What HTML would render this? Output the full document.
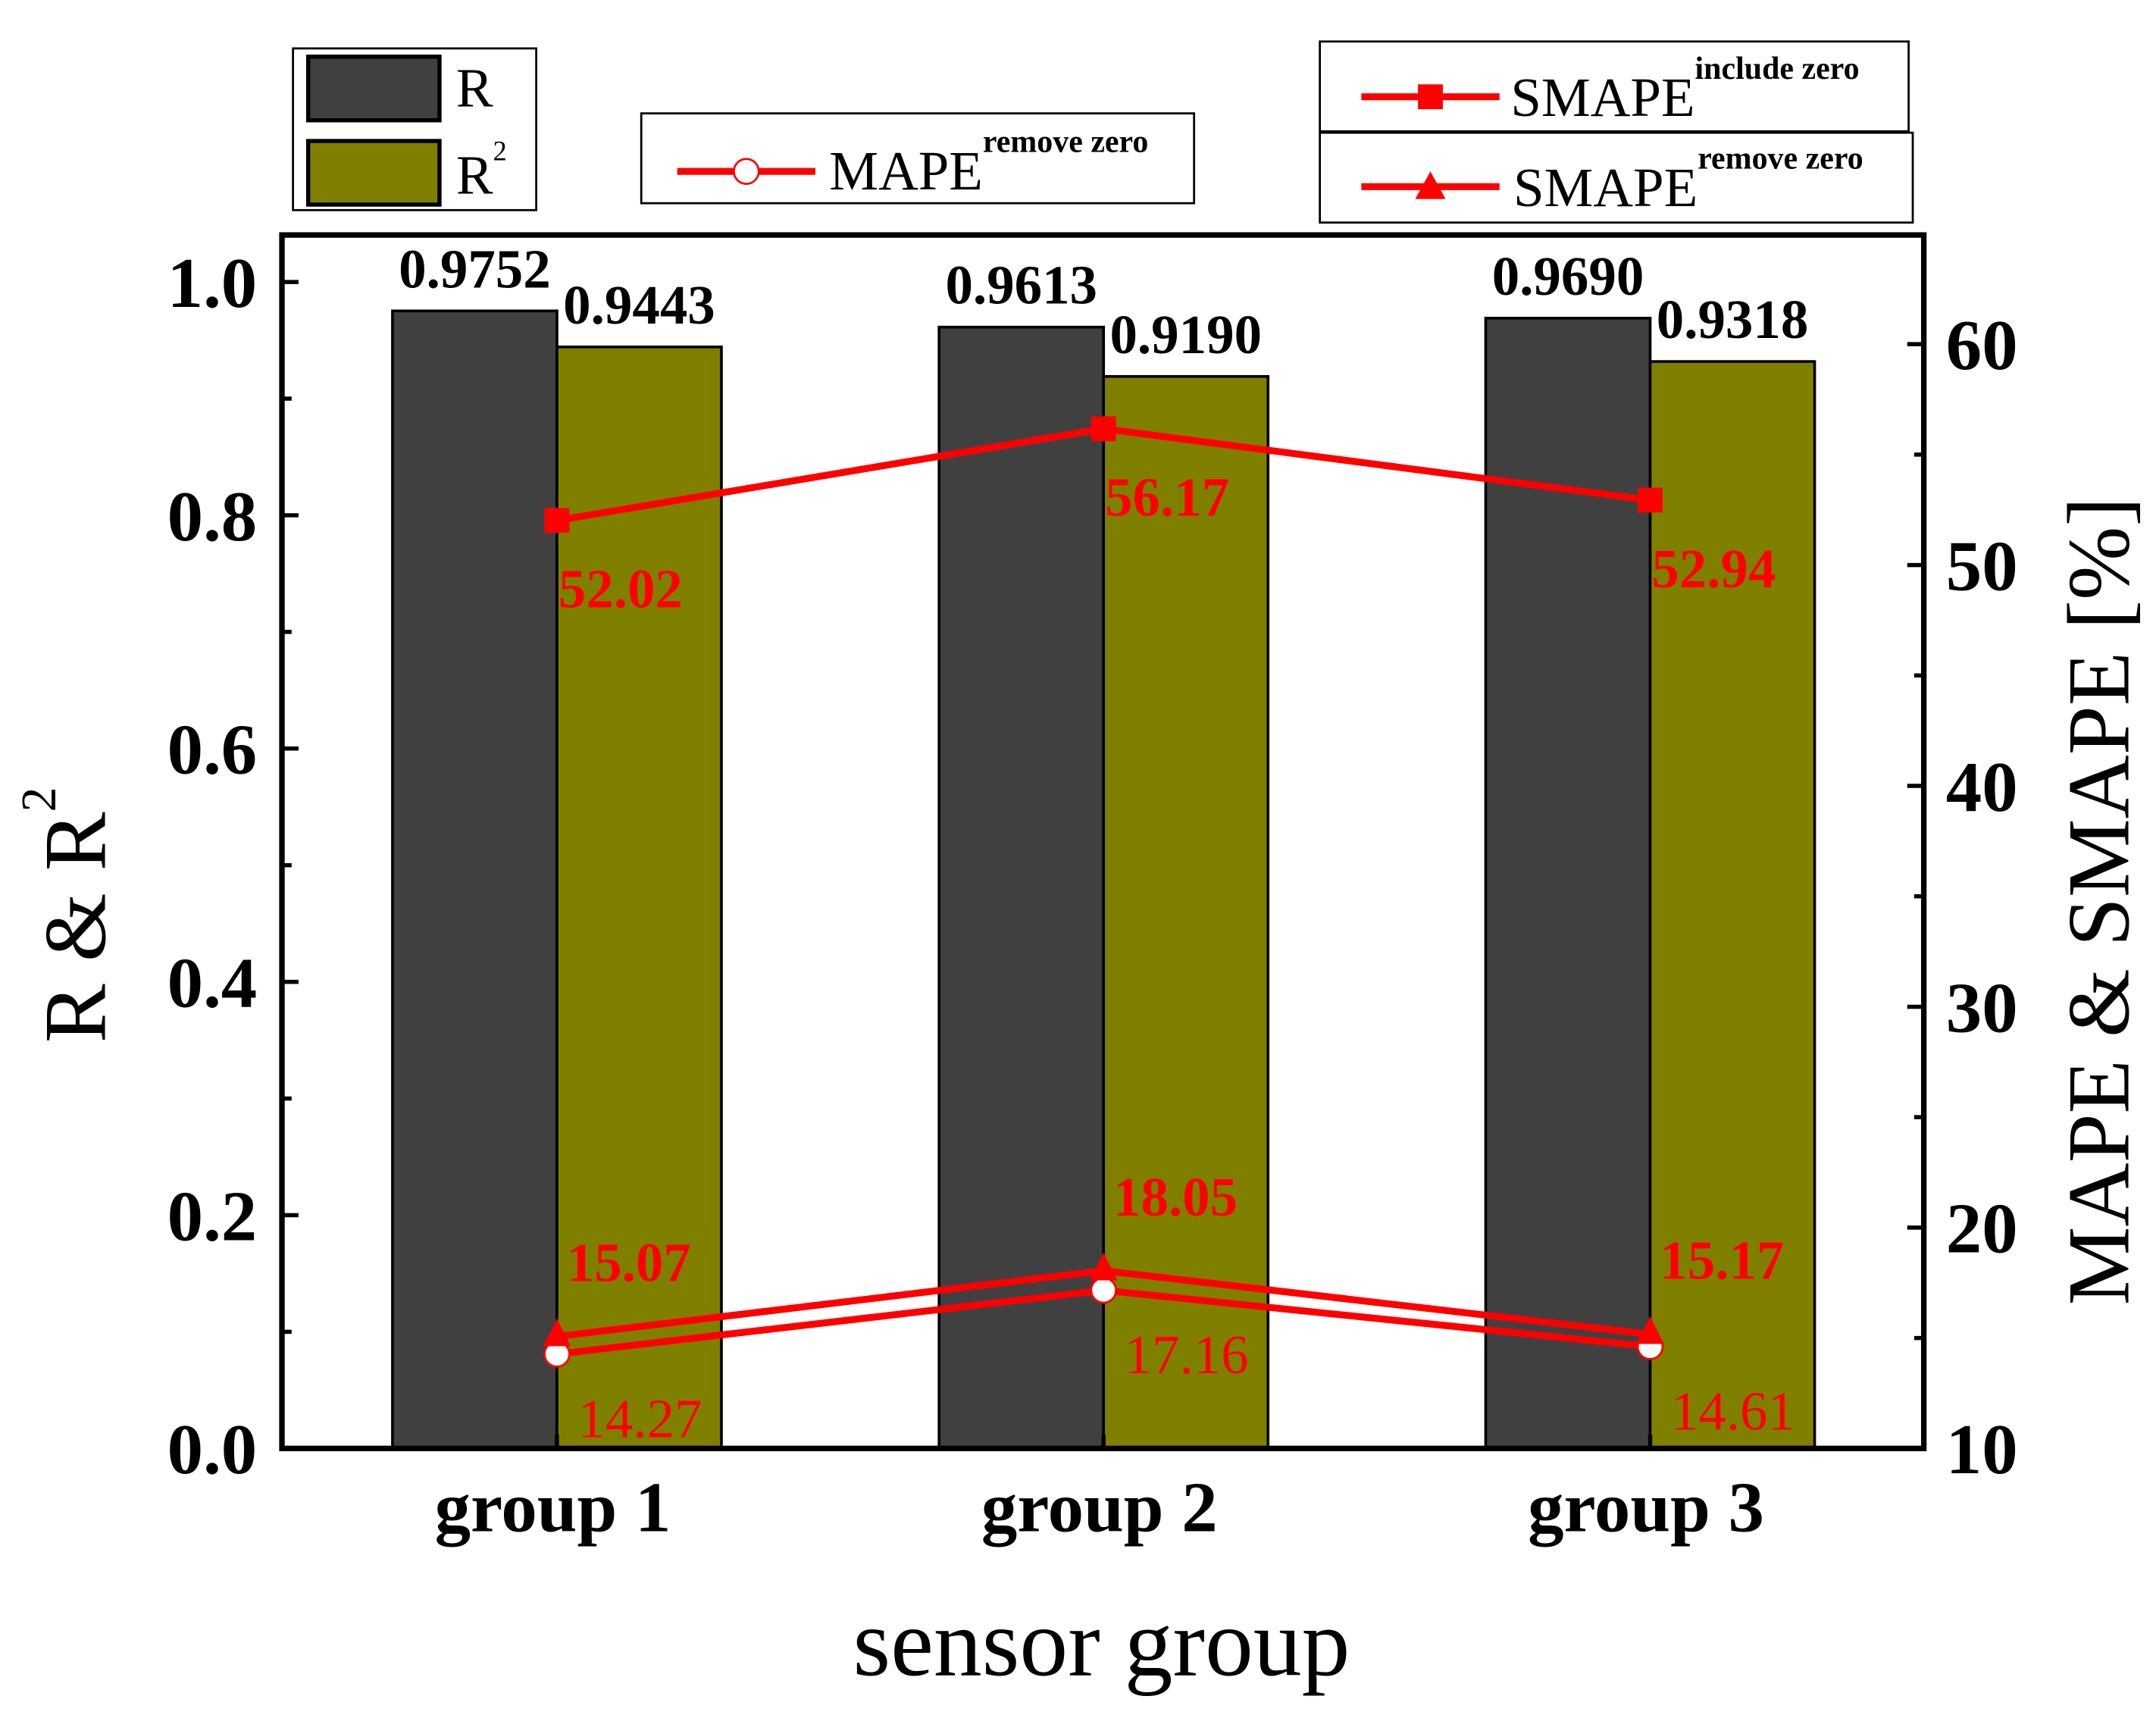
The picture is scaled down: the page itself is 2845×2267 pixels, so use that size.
<!DOCTYPE html>
<html><head><meta charset="utf-8"><style>
html,body{margin:0;padding:0;background:#fff;}
svg{display:block;}
text{font-family:"Liberation Serif",serif;}
</style></head><body>
<svg id="chart" width="2845" height="2267" viewBox="0 0 1560 1243" xmlns="http://www.w3.org/2000/svg">
<g id="bars"></g>
<g id="lines"></g>
<g id="axes"></g>
<g id="legends">
  <g>
    <rect x="212" y="35" width="176" height="117" fill="#fff" stroke="#000" stroke-width="1.5"/>
    <rect x="223" y="41" width="95" height="46" fill="#404040" stroke="#000" stroke-width="3"/>
    <text x="330" y="77" font-size="40">R</text>
    <rect x="223" y="102" width="95" height="46" fill="#808000" stroke="#000" stroke-width="3"/>
    <text x="330" y="140" font-size="40">R<tspan font-size="20" dy="-24">2</tspan></text>
  </g>
  <g>
    <rect x="464" y="82" width="400" height="65" fill="#fff" stroke="#000" stroke-width="1.5"/>
    <line x1="490" y1="124" x2="590" y2="124" stroke="#f00" stroke-width="5"/>
    <circle cx="540" cy="124" r="9" fill="#fff" stroke="#f00" stroke-width="1.5"/>
    <text x="600" y="137" font-size="40">MAPE<tspan font-size="23" font-weight="bold" dy="-27">remove zero</tspan></text>
  </g>
  <g>
    <rect x="955" y="30" width="426" height="65" fill="#fff" stroke="#000" stroke-width="1.5"/>
    <line x1="985" y1="70" x2="1085" y2="70" stroke="#f00" stroke-width="5"/>
    <rect x="1026" y="61" width="18" height="18" fill="#f00"/>
    <text x="1093" y="84" font-size="40">SMAPE<tspan font-size="23" font-weight="bold" dy="-27">include zero</tspan></text>
  </g>
  <g>
    <rect x="955" y="96" width="429" height="65" fill="#fff" stroke="#000" stroke-width="1.5"/>
    <line x1="985" y1="135" x2="1085" y2="135" stroke="#f00" stroke-width="5"/>
    <polygon points="1035,124 1046,144 1024,144" fill="#f00"/>
    <text x="1095" y="149" font-size="40">SMAPE<tspan font-size="23" font-weight="bold" dy="-27">remove zero</tspan></text>
  </g>
</g>
</svg>
<script>
const categories = ["group 1", "group 2", "group 3"];
const rValues = [0.9752, 0.9613, 0.9690];
const r2Values = [0.9443, 0.9190, 0.9318];
const smapeInclude = [52.02, 56.17, 52.94];
const smapeRemove = [15.07, 18.05, 15.17];
const mapeRemove = [14.27, 17.16, 14.61];
const leftTicks = ["0.0", "0.2", "0.4", "0.6", "0.8", "1.0"];
const rightTicks = ["10", "20", "30", "40", "50", "60"];

const NS = "http://www.w3.org/2000/svg";
const L = 204, R = 1392, T = 170, B = 1048;
const yL = v => B - v * (B - 204);
const yR = v => B - (v - 10) * (B - 249) / 50;
const xC = i => 403 + i * 395.5;
const barW = 119;
function mk(tag, attrs, parent, txt) {
  const e = document.createElementNS(NS, tag);
  for (const k in attrs) e.setAttribute(k, attrs[k]);
  if (txt !== undefined) e.textContent = txt;
  parent.appendChild(e);
  return e;
}
const gb = document.getElementById("bars");
const gl = document.getElementById("lines");
const ga = document.getElementById("axes");

categories.forEach((c, i) => {
  const x = xC(i);
  let b = mk("rect", {x: x - barW, y: yL(rValues[i]), width: barW, height: B - yL(rValues[i]), fill: "#404040", stroke: "#000", "stroke-width": 2}, gb);
  
  
  b = mk("rect", {x: x, y: yL(r2Values[i]), width: barW, height: B - yL(r2Values[i]), fill: "#808000", stroke: "#000", "stroke-width": 2}, gb);
  
  
  let t = mk("text", {x: x - barW / 2, y: yL(rValues[i]) - 17, "font-size": 40, "font-weight": "bold", "text-anchor": "middle"}, gb, rValues[i].toFixed(4));
  
  
  t = mk("text", {x: x + barW / 2, y: yL(r2Values[i]) - 17, "font-size": 40, "font-weight": "bold", "text-anchor": "middle"}, gb, r2Values[i].toFixed(4));
  
  
});

function series(vals, name) {
  const pts = vals.map((v, i) => xC(i) + "," + yR(v)).join(" ");
  const p = mk("polyline", {points: pts, fill: "none", stroke: "#f00", "stroke-width": 5}, gl);
  
  
}
series(smapeInclude, "smape-include-zero");
series(smapeRemove, "smape-remove-zero");
series(mapeRemove, "mape-remove-zero");

categories.forEach((c, i) => {
  const x = xC(i);
  let m = mk("rect", {x: x - 9, y: yR(smapeInclude[i]) - 9, width: 18, height: 18, fill: "#f00"}, gl);
  
  
  m = mk("circle", {cx: x, cy: yR(mapeRemove[i]), r: 9, fill: "#fff", stroke: "#f00", "stroke-width": 1.5}, gl);
  
  
  const ys = yR(smapeRemove[i]);
  m = mk("polygon", {points: `${x},${ys - 13} ${x + 10},${ys + 7} ${x - 10},${ys + 7}`, fill: "#f00"}, gl);
  
  
  let t = mk("text", {x: x + 1, y: yR(smapeInclude[i]) + 63, "font-size": 40, "font-weight": "bold", fill: "#f00"}, gl, smapeInclude[i].toFixed(2));
  
  
  t = mk("text", {x: x + 7, y: ys - 40, "font-size": 40, "font-weight": "bold", fill: "#f00"}, gl, smapeRemove[i].toFixed(2));
  
  
  t = mk("text", {x: x + 15, y: yR(mapeRemove[i]) + 60, "font-size": 40, fill: "#f00"}, gl, mapeRemove[i].toFixed(2));
  
  
});

let f = mk("rect", {x: L, y: T, width: R - L, height: B - T, fill: "none", stroke: "#000", "stroke-width": 4}, ga);


leftTicks.forEach((lab, i) => {
  const v = parseFloat(lab);
  mk("line", {x1: L, x2: L + 12, y1: yL(v), y2: yL(v), stroke: "#000", "stroke-width": 3}, ga);
  if (i < leftTicks.length - 1) mk("line", {x1: L, x2: L + 7, y1: yL(v + 0.1), y2: yL(v + 0.1), stroke: "#000", "stroke-width": 3}, ga);
  const t = mk("text", {x: 186, y: yL(v) + 18, "font-size": 52, "font-weight": "bold", "text-anchor": "end"}, ga, lab);
  
  
});
rightTicks.forEach((lab, i) => {
  const v = parseFloat(lab);
  mk("line", {x1: R - 12, x2: R, y1: yR(v), y2: yR(v), stroke: "#000", "stroke-width": 3}, ga);
  if (i < rightTicks.length - 1) mk("line", {x1: R - 7, x2: R, y1: yR(v + 5), y2: yR(v + 5), stroke: "#000", "stroke-width": 3}, ga);
  const t = mk("text", {x: 1408, y: yR(v) + 18, "font-size": 52, "font-weight": "bold"}, ga, lab);
  
  
});
categories.forEach((c, i) => {
  mk("line", {x1: xC(i), x2: xC(i), y1: B, y2: B - 10, stroke: "#000", "stroke-width": 3}, ga);
  const t = mk("text", {x: xC(i) - 3, y: 1108, "font-size": 52, "font-weight": "bold", "text-anchor": "middle"}, ga, c);
  
  
});
let t = mk("text", {x: 797, y: 1212, "font-size": 70, "text-anchor": "middle"}, ga, "sensor group");


t = mk("text", {x: 0, y: 0, "font-size": 64, "text-anchor": "middle", transform: "translate(76,662) rotate(-90)"}, ga);
t.innerHTML = 'R &amp; R<tspan font-size="36" dy="-36">2</tspan>';


t = mk("text", {x: 0, y: 0, "font-size": 64, "text-anchor": "middle", transform: "translate(1540,652) rotate(-90)"}, ga, "MAPE & SMAPE [%]");


</script>
</body></html>
